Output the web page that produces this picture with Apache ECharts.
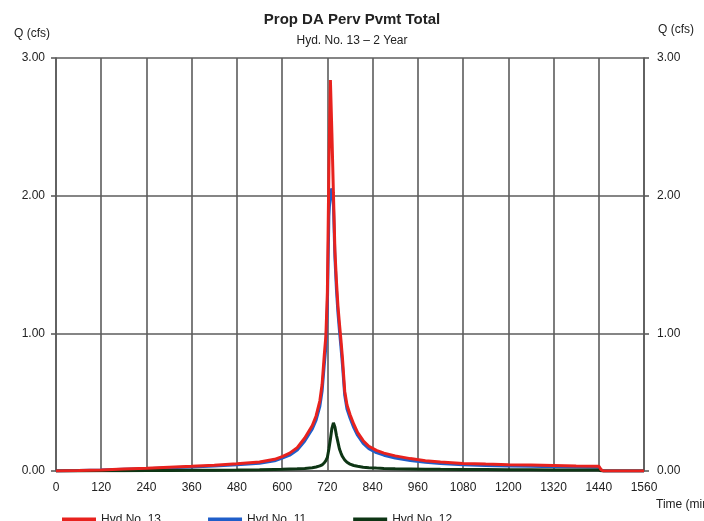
<!DOCTYPE html>
<html>
<head>
<meta charset="utf-8">
<script src="https://cdn.jsdelivr.net/npm/echarts@6/dist/echarts.min.js"></script>
<style>
  html, body { margin: 0; padding: 0; background: #ffffff; overflow: hidden; }
  #chart { width: 704px; height: 521px; }
</style>
</head>
<body>
<div id="chart"></div>
<script>
// Hydrograph: time (min) vs flow Q (cfs)
const timeMin = [0, 60, 120, 180, 240, 300, 360, 420, 480, 540,
  580, 600, 620, 640, 660, 680, 690, 700, 706, 712,
  716, 720, 724, 728, 732, 736, 740, 744, 748, 752,
  756, 760, 766, 772, 780, 790, 800, 815, 830, 850,
  870, 900, 940, 980, 1020, 1080, 1140, 1200, 1260, 1320,
  1380, 1440, 1446, 1452, 1500, 1560];

// Hyd No. 13 (combined)
const hyd13 = [0, 0.003, 0.008, 0.014, 0.02, 0.027, 0.034, 0.042, 0.052, 0.066,
  0.085, 0.105, 0.13, 0.17, 0.24, 0.33, 0.4, 0.51, 0.63, 0.85,
  0.98, 1.3, 2.2, 2.84, 2.45, 2.02, 1.6, 1.38, 1.2, 1.07,
  0.95, 0.82, 0.58, 0.48, 0.41, 0.34, 0.28, 0.22, 0.18, 0.15,
  0.13, 0.11, 0.09, 0.075, 0.065, 0.055, 0.05, 0.046, 0.043, 0.04,
  0.037, 0.035, 0.01, 0, 0, 0];

// Hyd No. 11
const hyd11 = [0, 0.003, 0.007, 0.012, 0.017, 0.023, 0.029, 0.036, 0.045, 0.057,
  0.074, 0.093, 0.115, 0.152, 0.218, 0.305, 0.37, 0.47, 0.58, 0.78,
  0.9, 1.2, 1.85, 2.05, 2.03, 1.93, 1.55, 1.32, 1.15, 1.02,
  0.9, 0.77, 0.55, 0.45, 0.385, 0.315, 0.26, 0.2, 0.162, 0.133,
  0.115, 0.095, 0.077, 0.063, 0.054, 0.045, 0.04, 0.037, 0.034, 0.031,
  0.029, 0.027, 0.008, 0, 0, 0];

// Hyd No. 12
const hyd12 = [0, 0, 0.001, 0.002, 0.003, 0.004, 0.005, 0.006, 0.007, 0.009,
  0.011, 0.012, 0.014, 0.016, 0.019, 0.024, 0.029, 0.037, 0.045, 0.06,
  0.075, 0.1, 0.16, 0.23, 0.31, 0.35, 0.32, 0.26, 0.21, 0.16,
  0.13, 0.105, 0.08, 0.063, 0.05, 0.04, 0.034, 0.028, 0.024, 0.021,
  0.019, 0.017, 0.015, 0.013, 0.012, 0.011, 0.01, 0.009, 0.009, 0.008,
  0.008, 0.007, 0.002, 0, 0, 0];

const seriesNames = ['Hyd No. 13', 'Hyd No. 11', 'Hyd No. 12'];
const seriesColors = ['#e8221e', '#1f5ec9', '#0d3514'];

const pairs = vals => timeMin.map((t, i) => [t, vals[i]]);

const FONT = 'Liberation Sans, Arial, sans-serif';
const txt = '#222';
const gridColor = '#5c5c5c';

const chart = echarts.init(document.getElementById('chart'), null, { renderer: 'canvas' });

const yAxisBase = {
  type: 'value',
  min: 0, max: 3, interval: 1,
  name: 'Q (cfs)',
  nameLocation: 'end',
  axisLine: { show: true, lineStyle: { color: gridColor, width: 1.6 } },
  axisTick: { show: true, length: 5, lineStyle: { color: gridColor, width: 1.6 } },
  axisLabel: { color: txt, fontFamily: FONT, fontSize: 12, formatter: v => v.toFixed(2) }
};

chart.setOption({
  animation: false,
  backgroundColor: '#ffffff',
  title: {
    text: 'Prop DA Perv Pvmt Total',
    subtext: 'Hyd. No. 13 \u2013 2 Year',
    left: 'center',
    top: 7,
    itemGap: 8,
    textStyle: { fontFamily: FONT, fontSize: 15, fontWeight: 'bold', color: txt },
    subtextStyle: { fontFamily: FONT, fontSize: 12, color: txt }
  },
  legend: {
    data: seriesNames.map(n => ({ name: n, icon: 'rect' })),
    left: 57,
    top: 509,
    itemWidth: 34,
    itemHeight: 5,
    itemGap: 47,
    textStyle: { fontFamily: FONT, fontSize: 12, color: txt }
  },
  grid: { left: 56, right: 60, top: 58, bottom: 50, containLabel: false, outerBoundsMode: 'none' },
  xAxis: {
    type: 'value',
    min: 0, max: 1560, interval: 120,
    name: 'Time (min)',
    nameLocation: 'end',
    nameGap: 12,
    nameTextStyle: { fontFamily: FONT, fontSize: 12, color: txt, align: 'left', verticalAlign: 'top', padding: [28, 0, 0, 0] },
    axisLine: { show: true, onZero: false, lineStyle: { color: gridColor, width: 1.6 } },
    axisTick: { show: false },
    axisLabel: { color: txt, fontFamily: FONT, fontSize: 12, margin: 11, formatter: v => String(v) },
    splitLine: { show: true, lineStyle: { color: gridColor, width: 1.6 } }
  },
  yAxis: [
    Object.assign({}, yAxisBase, {
      position: 'left',
      nameGap: 18,
      nameTextStyle: { fontFamily: FONT, fontSize: 12, color: txt, align: 'right', padding: [0, 6, 0, 0] },
      axisLabel: Object.assign({}, yAxisBase.axisLabel, { margin: 11 }),
      splitLine: { show: true, lineStyle: { color: gridColor, width: 1.6 } }
    }),
    Object.assign({}, yAxisBase, {
      position: 'right',
      nameGap: 22,
      nameTextStyle: { fontFamily: FONT, fontSize: 12, color: txt, align: 'left', padding: [0, 0, 0, 14] },
      axisLabel: Object.assign({}, yAxisBase.axisLabel, { margin: 13 }),
      splitLine: { show: false }
    })
  ],
  series: [
    {
      name: seriesNames[1], type: 'line', data: pairs(hyd11), symbol: 'none', z: 3,
      itemStyle: { color: seriesColors[1] }, lineStyle: { color: seriesColors[1], width: 3 }
    },
    {
      name: seriesNames[2], type: 'line', data: pairs(hyd12), symbol: 'none', z: 3,
      itemStyle: { color: seriesColors[2] }, lineStyle: { color: seriesColors[2], width: 3 }
    },
    {
      name: seriesNames[0], type: 'line', data: pairs(hyd13), symbol: 'none', z: 4,
      itemStyle: { color: seriesColors[0] }, lineStyle: { color: seriesColors[0], width: 3 }
    }
  ]
});
</script>
</body>
</html>
